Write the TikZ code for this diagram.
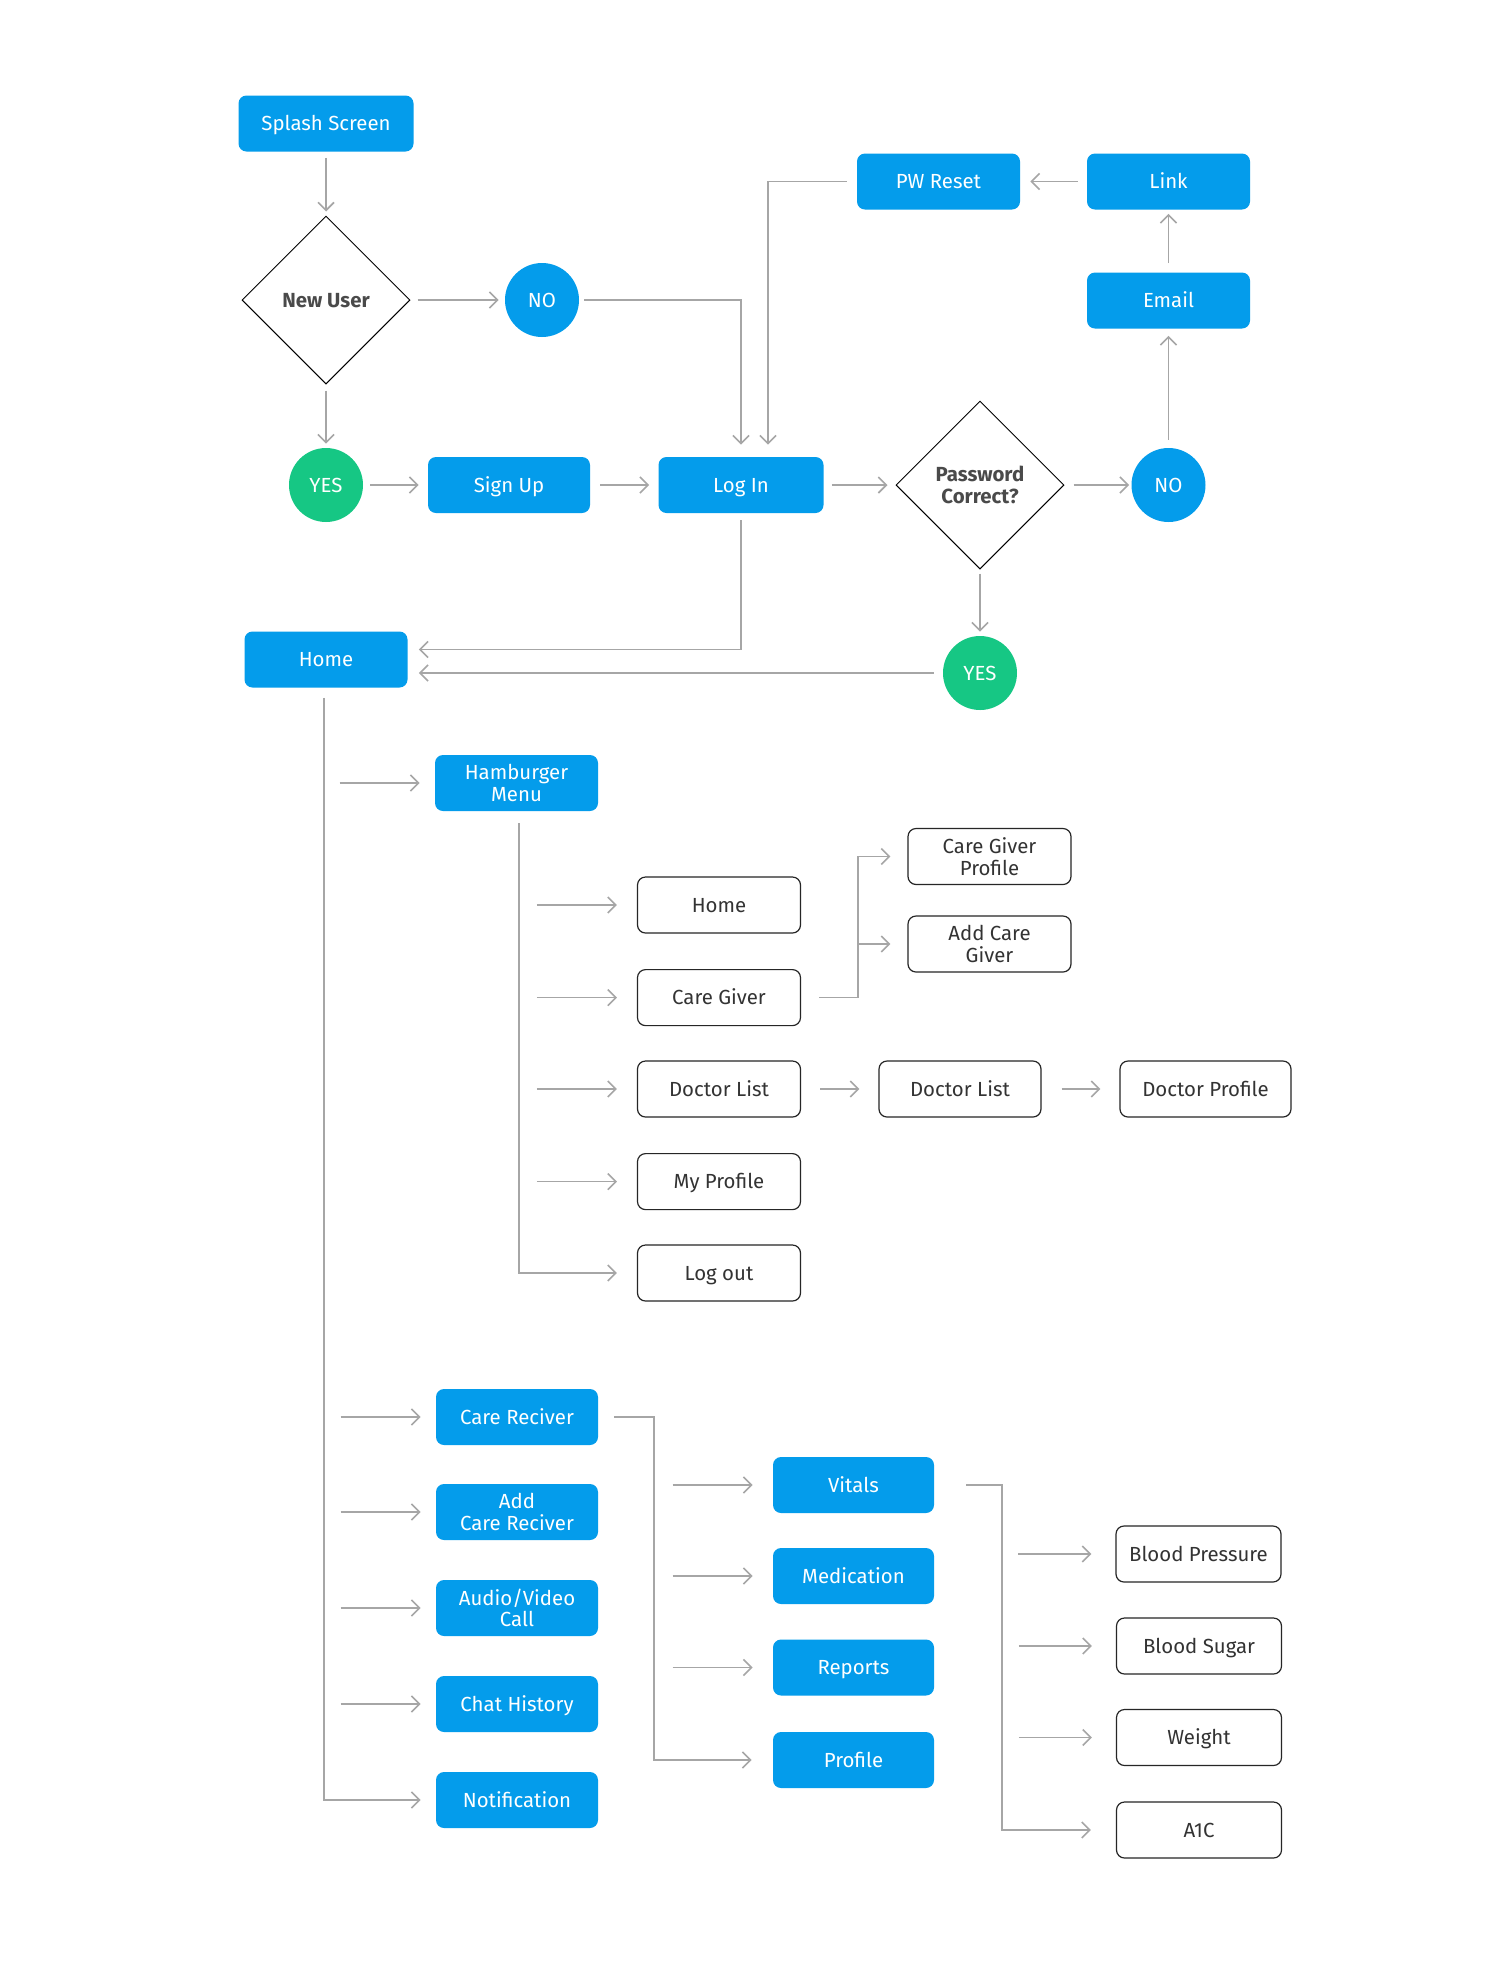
\documentclass[tikz,border=0pt]{standalone}
\usepackage{fontspec}
\setmainfont{Fira Sans}
\usetikzlibrary{shapes.geometric,arrows.meta,calc}
\definecolor{cblue}{HTML}{049CEB}
\definecolor{cgreen}{HTML}{16C784}
\definecolor{cline}{HTML}{A6A6A6}
\definecolor{ctext}{HTML}{333333}
\definecolor{cdia}{HTML}{4A4A4A}
\begin{document}
\begin{tikzpicture}[x=0.5pt,y=-0.5pt,
 every node/.style={font=\fontsize{10.2}{10.8}\selectfont, align=center, inner sep=0pt},
 one/.style={text height=7pt, text depth=0pt},
 bbox/.style={rectangle, rounded corners=4pt, fill=cblue, text=white, minimum width=82pt, minimum height=28pt},
 wbox/.style={rectangle, rounded corners=4pt, draw=black!85, line width=0.6pt, fill=white, text=ctext, minimum width=82pt, minimum height=28pt},
 circ/.style={circle, minimum size=37pt, text=white, one},
 dia/.style={diamond, draw=black, line width=0.5pt, minimum width=84pt, minimum height=84pt, aspect=1},
 dtext/.style={text=cdia, font=\fontsize{10.2}{11}\selectfont\bfseries},
 arr/.style={draw=cline, line width=0.8pt, -{Straight Barb[length=4pt,width=8pt]}},
 ]
\fill[white] (0,0) rectangle (1500,1961);

% top section
\node[bbox, one, minimum width=87.5pt] (splash) at (326,123.5) {Splash Screen};
\node[dia] (newuser) at (326,300) {};
\node[dtext, one] (newusertxt) at (newuser) {New User};
\node[circ, fill=cblue] (no1) at (542,300) {NO};
\node[circ, fill=cgreen] (yes1) at (326,485) {YES};
\node[bbox, one, minimum width=81pt] (signup) at (509,485) {Sign Up};
\node[bbox, one, minimum width=82.5pt] (login) at (741,485) {Log In};
\node[dia] (pw) at (980,485) {};
\node[dtext] (pwtxt) at (pw) {Password\\Correct?};
\node[circ, fill=cblue] (no2) at (1168.5,485) {NO};
\node[bbox, one, minimum width=81.5pt] (email) at (1168.5,300.5) {Email};
\node[bbox, one, minimum width=81.5pt] (link) at (1168.5,181.5) {Link};
\node[bbox, one, minimum width=81.5pt] (pwreset) at (938.5,181.5) {PW Reset};
\node[bbox, one, minimum width=81.5pt] (home) at (326,659.5) {Home};
\node[circ, fill=cgreen] (yes2) at (980,673) {YES};

% hamburger menu
\node[bbox, minimum width=81.5pt] (ham) at (516.5,783) {Hamburger\\Menu};
\node[wbox, one, minimum width=81.5pt] (home2) at (719,905) {Home};
\node[wbox, one, minimum width=81.5pt] (cg) at (719,997.6) {Care Giver};
\node[wbox, one, minimum width=81.5pt] (dl) at (719,1089) {Doctor List};
\node[wbox, one, minimum width=81.5pt] (mp) at (719,1181.6) {My Profile};
\node[wbox, one, minimum width=81.5pt] (lo) at (719,1273) {Log out};
\node[wbox, minimum width=81.5pt] (cgp) at (989.5,856.5) {Care Giver\\Profile};
\node[wbox, minimum width=81.5pt] (acg) at (989.5,944) {Add Care\\Giver};
\node[wbox, one, minimum width=81pt] (dl2) at (960,1089) {Doctor List};
\node[wbox, one, minimum width=85.5pt] (dp) at (1205.5,1089) {Doctor Profile};

% care receiver section
\node[bbox, one, minimum width=81pt] (cr) at (517,1417) {Care Reciver};
\node[bbox, minimum width=81pt] (acr) at (517,1512) {Add\\Care Reciver};
\node[bbox, minimum width=81pt] (av) at (517,1608) {Audio/Video\\Call};
\node[bbox, one, minimum width=81pt] (ch) at (517,1704) {Chat History};
\node[bbox, one, minimum width=81pt] (nt) at (517,1800) {Notification};
\node[bbox, one, minimum width=80.5pt] (vit) at (853.5,1485) {Vitals};
\node[bbox, one, minimum width=80.5pt] (med) at (853.5,1576) {Medication};
\node[bbox, one, minimum width=80.5pt] (rep) at (853.5,1667.5) {Reports};
\node[bbox, one, minimum width=80.5pt] (prof) at (853.5,1760) {Profile};
\node[wbox, one, minimum width=82.5pt] (bp) at (1198.5,1554) {Blood Pressure};
\node[wbox, one, minimum width=82.5pt] (bs) at (1199,1646) {Blood Sugar};
\node[wbox, one, minimum width=82.5pt] (wt) at (1199,1737.5) {Weight};
\node[wbox, one, minimum width=82.5pt] (a1c) at (1199,1830) {A1C};

% connectors top
\draw[arr, shorten <=3pt, shorten >=2pt] (splash) -- (newuser);
\draw[arr, shorten <=3.5pt, shorten >=3pt] (newuser) -- (no1);
\draw[arr, shorten <=3pt, shorten >=2pt] (newuser) -- (yes1);
\draw[arr, shorten <=2.5pt, shorten >=6pt] (no1) -| (login);
\draw[arr, shorten <=5pt, shorten >=6pt] (pwreset) -| ([xshift=13.5pt]login.north);
\draw[arr, shorten <=4.5pt, shorten >=5pt] (link) -- (pwreset);
\draw[arr, shorten <=4.5pt, shorten >=2pt] (email) -- (link);
\draw[arr, shorten <=4pt, shorten >=3.5pt] (no2) -- (email);
\draw[arr, shorten <=3.5pt, shorten >=4.5pt] (yes1) -- (signup);
\draw[arr, shorten <=5pt, shorten >=4.5pt] (signup) -- (login);
\draw[arr, shorten <=4pt, shorten >=4pt] (login) -- (pw);
\draw[arr, shorten <=4.5pt, shorten >=1pt] (pw) -- (no2);
\draw[arr, shorten <=2pt, shorten >=2pt] (pw) -- (yes2);
\draw[arr, shorten <=3.5pt, shorten >=5.5pt] (login) |- ([yshift=5pt]home.east);
\draw[arr, shorten <=4.5pt, shorten >=5.5pt] (yes2) -- (yes2 -| home.east);

% home trunk
\draw[arr, shorten <=5pt, shorten >=7.5pt] ([xshift=-1pt]home.south) |- (nt);
\foreach \n in {ham,cr,acr,av,ch}
  \draw[arr] ([xshift=-47.5pt]\n.west) -- ([xshift=-7.5pt]\n.west);

% hamburger trunk
\draw[arr, shorten <=6pt, shorten >=10pt] ([xshift=1.25pt]ham.south) |- (lo);
\foreach \n in {home2,cg,dl,mp}
  \draw[arr] ([xshift=-50pt]\n.west) -- ([xshift=-10pt]\n.west);

% care giver branch
\coordinate (cgj) at (858,997.6);
\draw[arr] ([xshift=9pt]cg.east) -| (cgj |- cgp) -- ([xshift=-8.5pt]cgp.west);
\draw[arr] (cgj |- acg) -- ([xshift=-8.5pt]acg.west);

% doctor list chain
\draw[arr, shorten <=9.5pt, shorten >=9.5pt] (dl) -- (dl2);
\draw[arr, shorten <=10pt, shorten >=9.5pt] (dl2) -- (dp);

% care receiver branch
\coordinate (crj) at (654,1417);
\draw[arr] ([xshift=8pt]cr.east) -| (crj |- prof) -- ([xshift=-10.5pt]prof.west);
\foreach \n in {vit,med,rep}
  \draw[arr] ([xshift=-50pt]\n.west) -- ([xshift=-10pt]\n.west);

% vitals branch
\coordinate (vj) at (1001.7,1485);
\draw[arr] ([xshift=16pt]vit.east) -| (vj |- a1c) -- ([xshift=-12.5pt]a1c.west);
\foreach \n in {bp,bs,wt}
  \draw[arr] ([xshift=-48.5pt]\n.west) -- ([xshift=-12pt]\n.west);
\end{tikzpicture}
\end{document}
